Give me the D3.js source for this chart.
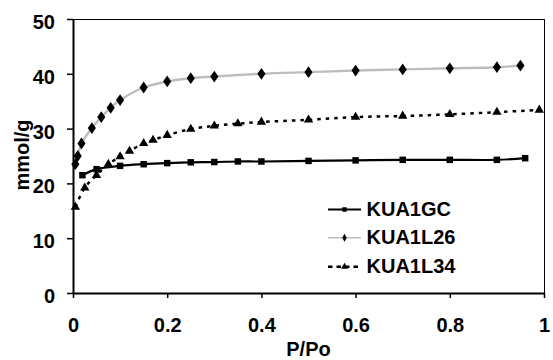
<!DOCTYPE html>
<html><head><meta charset="utf-8">
<script src="https://cdn.jsdelivr.net/npm/d3@7"></script>
<style>
html,body{margin:0;padding:0;background:#fff;}
svg text{font-family:Arial,"Liberation Sans",sans-serif;font-weight:bold;fill:#000;}
</style></head>
<body><svg id="c" width="553" height="360"></svg>
<script>
// Data
const gcX  = [0.02,0.05,0.10,0.15,0.20,0.25,0.30,0.35,0.40,0.50,0.60,0.70,0.80,0.90,0.96];
const gcY  = [21.5,22.6,23.2,23.5,23.7,23.85,23.9,24.0,24.0,24.1,24.2,24.3,24.3,24.3,24.6];
const l26X = [0.005,0.01,0.018,0.04,0.06,0.08,0.10,0.15,0.20,0.25,0.30,0.40,0.50,0.60,0.70,0.80,0.90,0.95];
const l26Y = [23.5,25.0,27.3,30.1,32.1,33.8,35.2,37.5,38.6,39.2,39.5,40.0,40.3,40.6,40.8,41.0,41.2,41.5];
const l34X = [0.005,0.025,0.05,0.075,0.10,0.12,0.15,0.17,0.20,0.25,0.30,0.35,0.40,0.50,0.60,0.70,0.80,0.90,0.99];
const l34Y = [15.7,19.2,21.5,23.5,24.9,25.9,27.3,27.9,28.8,29.9,30.5,30.9,31.2,31.6,32.1,32.3,32.6,33.0,33.4];
const seriesNames = ["KUA1GC","KUA1L26","KUA1L34"];
const xTicks = [0,0.2,0.4,0.6,0.8,1];
const yTicks = [0,10,20,30,40,50];
const xTitle = "P/Po";
const yTitle = "mmol/g";

const svg = d3.select("#c");
const L=73, R=544, T=19, B=293;
const FS = 20;
const x = d3.scaleLinear().domain([0,1]).range([L,R]);
const y = d3.scaleLinear().domain([0,50]).range([B,T]);

// frame (top/right)
svg.append("line").attr("x1",L).attr("x2",R).attr("y1",T+0.5).attr("y2",T+0.5).attr("stroke","#000").attr("stroke-width",1);
svg.append("line").attr("x1",R+0.5).attr("x2",R+0.5).attr("y1",T).attr("y2",B).attr("stroke","#000").attr("stroke-width",1);

// axes
const gx = svg.append("g").attr("transform",`translate(0,${B})`)
  .call(d3.axisBottom(x).tickValues(xTicks).tickSize(5).tickSizeOuter(0).tickFormat(d=>d3.format("~g")(d)));
gx.select(".domain").attr("stroke-width",2);
gx.selectAll(".tick line").attr("stroke-width",1.5);
gx.selectAll(".tick text").attr("font-size",FS).attr("dy",null).attr("y",38.5).attr("font-family",null);

const gy = svg.append("g").attr("transform",`translate(${L},0)`)
  .call(d3.axisLeft(y).tickValues(yTicks).tickSize(6).tickSizeOuter(0));
gy.select(".domain").attr("stroke-width",2);
gy.selectAll(".tick line").attr("stroke-width",1.5);
gy.selectAll(".tick text").attr("font-size",FS).attr("dy",null).attr("y",9.5).attr("x",-18).attr("font-family",null);

// titles
svg.append("text").attr("x",(L+R)/2).attr("y",356).attr("text-anchor","middle").attr("font-size",FS).text(xTitle);
svg.append("text").attr("transform","translate(29,155) rotate(-90)").attr("text-anchor","middle").attr("font-size",FS).text(yTitle);

const line = d3.line().curve(d3.curveCatmullRom.alpha(0.5)).x(d=>x(d[0])).y(d=>y(d[1]));
const gc = gcX.map((v,i)=>[v,gcY[i]]);
const l26 = l26X.map((v,i)=>[v,l26Y[i]]);
const l34 = l34X.map((v,i)=>[v,l34Y[i]]);

svg.append("path").attr("d",line(l26)).attr("fill","none").attr("stroke","#bdbdbd").attr("stroke-width",2.4);
svg.append("path").attr("d",line(l34)).attr("fill","none").attr("stroke","#000").attr("stroke-width",2.5).attr("stroke-dasharray","3.5,5");
svg.append("path").attr("d",line(gc)).attr("fill","none").attr("stroke","#000").attr("stroke-width",2.2);

const sq = d3.symbol().type(d3.symbolSquare).size(42);
const di = d3.symbol().type(d3.symbolDiamond).size(40);
const tr = d3.symbol().type(d3.symbolTriangle).size(38);

svg.append("g").selectAll("path").data(l26).join("path").attr("d",di).attr("transform",d=>`translate(${x(d[0])},${y(d[1])}) scale(1.2,1)`).attr("fill","#000");
svg.append("g").selectAll("path").data(l34).join("path").attr("d",tr).attr("transform",d=>`translate(${x(d[0])},${y(d[1])})`).attr("fill","#000");
svg.append("g").selectAll("path").data(gc).join("path").attr("d",sq).attr("transform",d=>`translate(${x(d[0])},${y(d[1])})`).attr("fill","#000");

// legend
const legY=[209.5,237.7,266.7];
const lx1=328, lx2=361;
svg.append("line").attr("x1",lx1).attr("x2",lx2).attr("y1",legY[0]).attr("y2",legY[0]).attr("stroke","#000").attr("stroke-width",2);
svg.append("path").attr("d",d3.symbol().type(d3.symbolSquare).size(20)).attr("transform",`translate(${(lx1+lx2)/2},${legY[0]})`);
svg.append("line").attr("x1",lx1).attr("x2",lx2).attr("y1",legY[1]).attr("y2",legY[1]).attr("stroke","#bdbdbd").attr("stroke-width",1.5);
svg.append("path").attr("d",d3.symbol().type(d3.symbolDiamond).size(18)).attr("transform",`translate(${(lx1+lx2)/2},${legY[1]})`);
svg.append("line").attr("x1",lx1).attr("x2",lx2).attr("y1",legY[2]).attr("y2",legY[2]).attr("stroke","#000").attr("stroke-width",2.5).attr("stroke-dasharray","4.5,4");
svg.append("path").attr("d",d3.symbol().type(d3.symbolTriangle).size(20)).attr("transform",`translate(${(lx1+lx2)/2},${legY[2]})`);
seriesNames.forEach((n,i)=>{
  svg.append("text").attr("x",366.5).attr("y",legY[i]+6.5).attr("font-size",FS).text(n);
});
</script></body></html>
